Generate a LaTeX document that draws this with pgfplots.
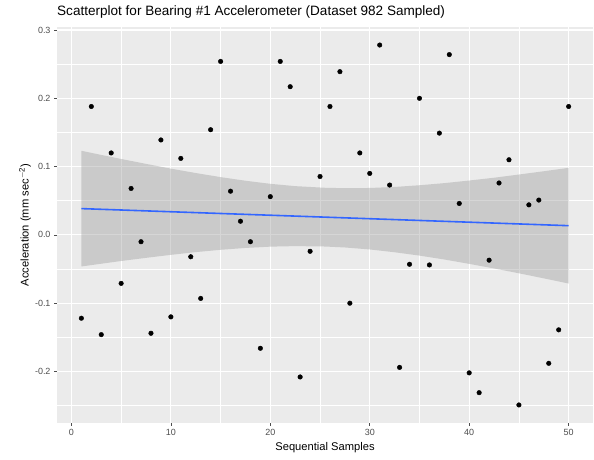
\documentclass[border=0pt]{standalone}
\usepackage{pgfplots}
\pgfplotsset{compat=1.18}
\usepackage{fontspec}
\setmainfont{Liberation Sans}
\definecolor{panel}{HTML}{EBEBEB}
\definecolor{tickgray}{HTML}{4D4D4D}
\definecolor{ggblue}{HTML}{3366FF}
\definecolor{bandgray}{HTML}{999999}
\begin{document}
\begin{tikzpicture}
\begin{axis}[at={(57bp,37bp)}, anchor=south west, scale only axis,
  width=536bp, height=396bp,
  xmin=-1.45, xmax=52.45, ymin=-0.2754, ymax=0.3044,
  axis background/.style={fill=panel},
  axis line style={draw=none},
  xtick={0,10,...,50}, minor xtick={5,15,...,45},
  ytick={-0.2,-0.1,0,0.1,0.2,0.3}, yticklabels={-0.2,-0.1,0.0,0.1,0.2,0.3},
  minor ytick={-0.25,-0.15,-0.05,0.05,0.15,0.25},
  grid=both, major grid style={white,line width=1.1bp}, minor grid style={white,line width=0.55bp},
  tick align=outside, major tick length=3bp, minor tick length=0pt,
  tick pos=left,
  tick style={tickgray,line width=0.6bp},
  ticklabel style={font=\fontsize{9}{10}\selectfont, text=tickgray},
  /pgf/number format/assume math mode=true,
  title={Scatterplot for Bearing \#1 Accelerometer (Dataset 982 Sampled)},
  title style={at={(axis description cs:0,1)}, anchor=base west, yshift=6bp, inner sep=0pt, font=\fontsize{13.6}{15}\selectfont},
  xlabel={Sequential Samples},
  xlabel style={at={(axis description cs:0.5,0)}, anchor=base, yshift=-28bp, inner sep=0pt, font=\fontsize{11.2}{13}\selectfont},
  ylabel={Acceleration (mm sec\textsuperscript{$-$2})},
  ylabel style={at={(axis description cs:-0.0597,0.5)}, anchor=center, inner sep=0pt, font=\fontsize{11.2}{13}\selectfont},
]
\addplot[only marks, mark=*, mark size=2.3bp, black] coordinates {
(1,-0.122)(2,0.188)(3,-0.146)(4,0.120)(5,-0.071)(6,0.068)(7,-0.010)(8,-0.144)(9,0.139)(10,-0.120)
(11,0.112)(12,-0.032)(13,-0.093)(14,0.154)(15,0.254)(16,0.064)(17,0.020)(18,-0.010)(19,-0.166)(20,0.056)
(21,0.254)(22,0.217)(23,-0.208)(24,-0.024)(25,0.0855)(26,0.188)(27,0.239)(28,-0.100)(29,0.120)(30,0.090)
(31,0.278)(32,0.073)(33,-0.194)(34,-0.043)(35,0.200)(36,-0.044)(37,0.149)(38,0.264)(39,0.046)(40,-0.202)
(41,-0.231)(42,-0.037)(43,0.076)(44,0.110)(45,-0.249)(46,0.044)(47,0.051)(48,-0.188)(49,-0.139)(50,0.188)
};
\addplot[fill=bandgray, fill opacity=0.4, draw=none] coordinates {
(1,0.1232)(2.5,0.1186)(5,0.1112)(7.5,0.1040)(10,0.0970)(12.5,0.0906)(15,0.0846)(17.5,0.0793)(20,0.0748)(22.5,0.0714)
(25.5,0.0690)(27.5,0.0684)(30,0.0687)(32.5,0.0702)(35,0.0727)(37.5,0.0758)(40,0.0796)(42.5,0.0837)(45,0.0884)(47.5,0.0932)(50,0.0982)
(50,-0.0712)(47.5,-0.0636)(45,-0.0562)(42.5,-0.0491)(40,-0.0424)(37.5,-0.0360)(35,-0.0303)(32.5,-0.0254)(30,-0.0213)(27.5,-0.0184)
(25.5,-0.0170)(22.5,-0.0164)(20,-0.0172)(17.5,-0.0191)(15,-0.0218)(12.5,-0.0252)(10,-0.0292)(7.5,-0.0336)(5,-0.0382)(2.5,-0.0432)(1,-0.0462)
} -- cycle;
\addplot[ggblue, line width=1.6bp] coordinates {(1,0.0385)(50,0.0135)};
\end{axis}
\path[use as bounding box] (0,0) rectangle (594bp,460bp);
\end{tikzpicture}
\end{document}
